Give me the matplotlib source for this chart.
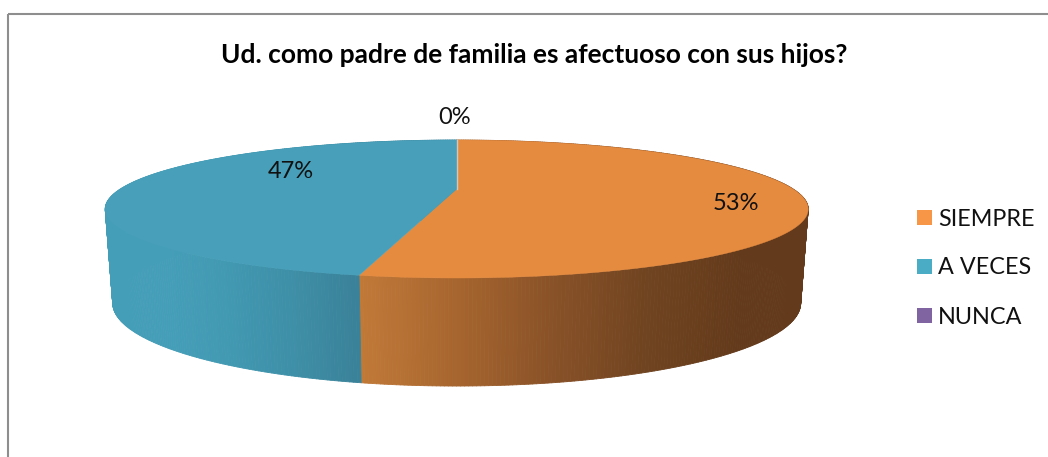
import numpy as np
import matplotlib
matplotlib.use('Agg')
import matplotlib.pyplot as plt
from matplotlib.collections import PolyCollection
from matplotlib.colors import LinearSegmentedColormap
from matplotlib.patches import Patch, Polygon, Rectangle

TITLE = 'Ud. como padre de familia es afectuoso con sus hijos?'
CATEGORIES = ['SIEMPRE', 'A VECES', 'NUNCA']
COUNTS = [16, 14, 0]

TOP_COLORS = ['#e58b40', '#479fb9', '#c9c9c9']
LEGEND_COLORS = ['#f79646', '#4bacc6', '#8064a2']
LABEL_POS = [(736, 204), (291, 172), (455, 118)]

# side shading, left to right across the picture
SIDE_MAPS = [
    LinearSegmentedColormap.from_list('o', ['#c27a38', '#a8662f', '#8a5228', '#704420', '#633a1b']),
    LinearSegmentedColormap.from_list('b', ['#449eb8', '#459eb8', '#4198b1', '#3e8fa7', '#3a8299']),
]
SIDE_RANGE = [(358, 745), (105, 358)]

CX = 456.7
PERSP = -0.29


def rim(theta, half_w, y_mid, a):
    # theta clockwise from the back of the pie, flattened with some perspective
    u = np.sin(theta)
    v = -np.cos(theta)
    k = half_w * np.sqrt(1 - PERSP ** 2)
    d = 1 + PERSP * v
    return CX + k * u / d, y_mid + a * v / d


def top_rim(theta):
    return rim(theta, 351.5, 189, 63.2)


def bottom_rim(theta):
    return rim(theta, 344, 279, 76)


fig = plt.figure(figsize=(10.48, 4.57), dpi=100)
ax = fig.add_axes([0, 0, 1, 1])
ax.set_xlim(0, 1048)
ax.set_ylim(457, 0)
ax.axis('off')

ax.add_patch(Rectangle((8, 13.5), 1100, 500, fill=False, ec='#8e8e8e', lw=1.5))

fracs = np.array(COUNTS) / sum(COUNTS)
edges = np.concatenate([[0], np.cumsum(fracs)]) * 2 * np.pi

# walls first, back to front
for i in range(2):
    th = np.linspace(edges[i], edges[i + 1], int(fracs[i] * 720) + 2)
    xt, yt = top_rim(th)
    xb, yb = bottom_rim(th)
    quads = [[(xt[j], yt[j]), (xt[j + 1], yt[j + 1]), (xb[j + 1], yb[j + 1]), (xb[j], yb[j])]
             for j in range(len(th) - 1)]
    lo, hi = SIDE_RANGE[i]
    cols = SIDE_MAPS[i](np.clip((xt[:-1] - lo) / (hi - lo), 0, 1))
    order = np.argsort(yt[:-1])
    ax.add_collection(PolyCollection([quads[j] for j in order], facecolors=cols[order],
                                     edgecolors=cols[order], linewidths=0.6))

# top faces
centre = (CX, 189)
for i in range(3):
    if COUNTS[i] == 0:
        x, y = top_rim(edges[i])
        ax.plot([CX, x], [189, y], color=TOP_COLORS[i], lw=1.0, zorder=4)
        continue
    th = np.linspace(edges[i], edges[i + 1], 300)
    x, y = top_rim(th)
    ax.add_patch(Polygon(np.vstack([[centre], np.column_stack([x, y])]), closed=True,
                         fc=TOP_COLORS[i], ec=TOP_COLORS[i], lw=0.3, zorder=3))

font = 'Lato'
ax.text(534, 55, TITLE, ha='center', va='center', fontsize=19, fontweight='bold',
        family=font, color='black')

for i in range(3):
    ax.text(LABEL_POS[i][0], LABEL_POS[i][1], '%.0f%%' % (fracs[i] * 100), ha='center', va='center',
            fontsize=17, family=font, color='#111111', zorder=5)

handles = [Patch(fc=c, ec='none', label=n) for c, n in zip(LEGEND_COLORS, CATEGORIES)]
ax.legend(handles=handles, loc='center left', bbox_to_anchor=(917 / 1048, 1 - 268 / 457),
          frameon=False, prop={'family': font, 'size': 16.8}, handlelength=0.64, handleheight=0.64,
          handletextpad=0.25, labelspacing=1.2, borderpad=0, borderaxespad=0,
          labelcolor='#111111')

fig.savefig('out.png', dpi=100)
